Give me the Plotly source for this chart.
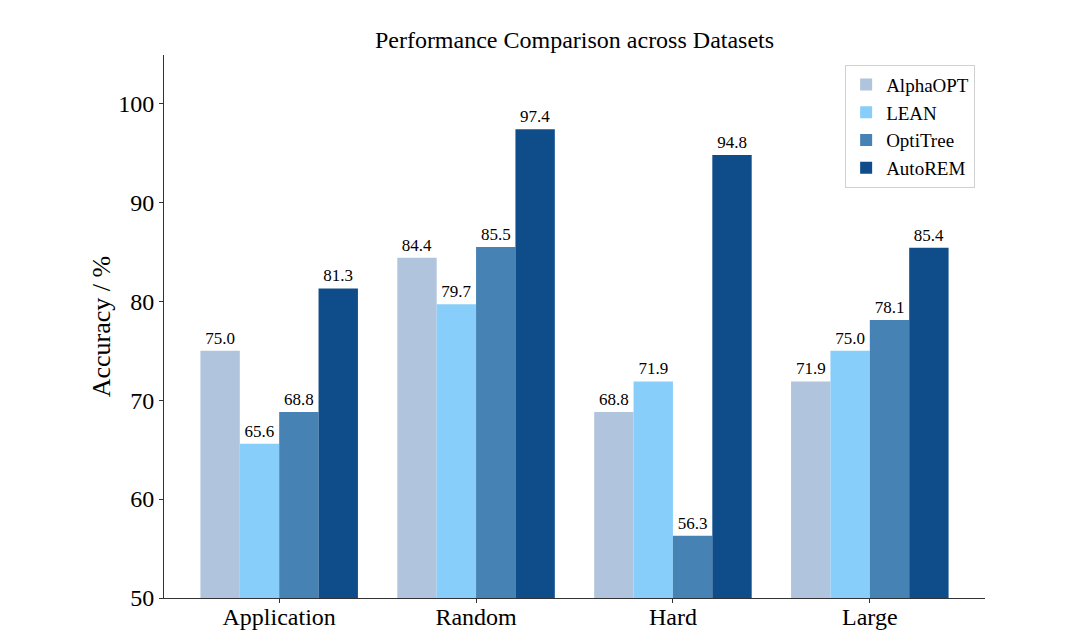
import plotly.graph_objects as go

datasets = ["Application", "Random", "Hard", "Large"]
methods = ["AlphaOPT", "LEAN", "OptiTree", "AutoREM"]
alphaopt = [75.0, 84.4, 68.8, 71.9]
lean = [65.6, 79.7, 71.9, 75.0]
optitree = [68.8, 85.5, 56.3, 78.1]
autorem = [81.3, 97.4, 94.8, 85.4]

colors = ["#B0C4DE", "#87CEFA", "#4682B4", "#0F4C8A"]
font = "Liberation Serif, Times New Roman, serif"

fig = go.Figure()
for name, vals, col in zip(methods, [alphaopt, lean, optitree, autorem], colors):
    fig.add_trace(go.Bar(
        x=datasets, y=vals, name=name,
        marker=dict(color=col, line=dict(width=0)),
        text=[f"{v:.1f}" for v in vals],
        textposition="outside",
        textfont=dict(family=font, size=17, color="black"),
        cliponaxis=False,
    ))

# page has an 8px body margin, so the figure is sized a bit smaller
fig.update_layout(
    width=1082, height=625,
    margin=dict(l=156, r=105, t=47, b=35),
    paper_bgcolor="white", plot_bgcolor="white",
    font=dict(family=font, color="black"),
    barmode="group", bargap=0.2, bargroupgap=0,
    title=dict(text="Performance Comparison across Datasets", x=0.5, xanchor="center",
               xref="paper", y=0.95, yanchor="middle", font=dict(size=24)),
    showlegend=True,
    legend=dict(x=0.988, y=0.982, xanchor="right", yanchor="top",
                bordercolor="#d0d0d0", borderwidth=1, bgcolor="white",
                font=dict(size=19), tracegroupgap=0),
    xaxis=dict(
        range=[-0.585, 3.585], showline=True, linecolor="#333", linewidth=1,
        ticks="outside", ticklen=4, tickcolor="#333", tickfont=dict(size=24),
        ticklabelstandoff=-7,
        showgrid=False, zeroline=False, automargin=False,
    ),
    yaxis=dict(
        range=[50, 104.9], dtick=10, showline=True, linecolor="#333", linewidth=1,
        ticks="outside", ticklen=4, tickcolor="#333", tickfont=dict(size=24),
        title=dict(text="Accuracy / %", font=dict(size=26), standoff=0),
        showgrid=False, zeroline=False, automargin=False,
    ),
)

fig.write_html("out.html")
